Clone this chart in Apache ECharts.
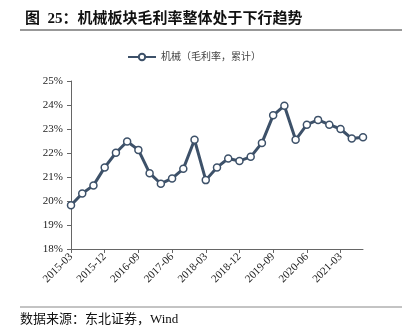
<!DOCTYPE html>
<html><head><meta charset="utf-8">
<script src="https://cdn.jsdelivr.net/npm/echarts@6/dist/echarts.min.js"></script>
<style>html,body{margin:0;padding:0;background:#fff}#c{width:412px;height:334px}</style>
</head><body><div id="c"></div>
<script>
const categories = ['2015-03','2015-06','2015-09','2015-12','2016-03','2016-06','2016-09','2016-12','2017-03','2017-06','2017-09','2017-12','2018-03','2018-06','2018-09','2018-12','2019-03','2019-06','2019-09','2019-12','2020-03','2020-06','2020-09','2020-12','2021-03','2021-06','2021-09'];
const grossMargin = [19.82,20.31,20.65,21.40,22.01,22.48,22.13,21.16,20.72,20.94,21.34,22.55,20.87,21.40,21.77,21.67,21.84,22.42,23.57,23.97,22.55,23.18,23.38,23.18,23.00,22.60,22.66];
const seriesName = '机械（毛利率，累计）';
const titleText = '图  25：机械板块毛利率整体处于下行趋势';
const sourceText = '数据来源：东北证券，Wind';

const serif = '"Liberation Serif","DejaVu Serif","Noto Sans CJK SC",serif';
const chart = echarts.init(document.getElementById('c'), null, {renderer:'canvas'});
chart.setOption({
  animation:false,
  backgroundColor:'#fff',
  title:{text:titleText,left:20,top:7,textStyle:{fontFamily:serif,fontSize:15,fontWeight:'bold',color:'#111'}},
  graphic:[
    {type:'line',shape:{x1:20,y1:30,x2:402,y2:30},style:{stroke:'#333',lineWidth:1}},
    {type:'line',shape:{x1:20,y1:307,x2:402,y2:307},style:{stroke:'#888',lineWidth:1}},
    {type:'text',left:20,top:313,style:{text:sourceText,font:'13px '+serif,fill:'#111'}}
  ],
  legend:{top:47,left:122,itemWidth:28,itemHeight:8,itemGap:4,
    textStyle:{fontFamily:serif,fontSize:10,color:'#444'},data:[seriesName]},
  grid:{left:71,right:49,top:81,bottom:85},
  xAxis:{type:'category',data:categories,boundaryGap:false,
    axisLine:{lineStyle:{color:'#666',width:1}},
    axisTick:{interval:2,length:4,lineStyle:{color:'#666'}},
    axisLabel:{interval:2,rotate:45,fontFamily:serif,fontSize:11,color:'#222',margin:6}},
  yAxis:{type:'value',min:18,max:25,interval:1,
    axisLine:{show:true,lineStyle:{color:'#666',width:1}},
    axisTick:{show:true,length:4,lineStyle:{color:'#666'}},
    splitLine:{show:false},
    axisLabel:{formatter:v=>v+'%',fontFamily:serif,fontSize:11,color:'#222',margin:8}},
  series:[{name:seriesName,type:'line',data:grossMargin,
    symbol:'circle',symbolSize:7,showAllSymbol:true,
    lineStyle:{color:'#3d5169',width:3},
    itemStyle:{color:'#fff',borderColor:'#3d5169',borderWidth:1.5}}]
});
</script></body></html>
